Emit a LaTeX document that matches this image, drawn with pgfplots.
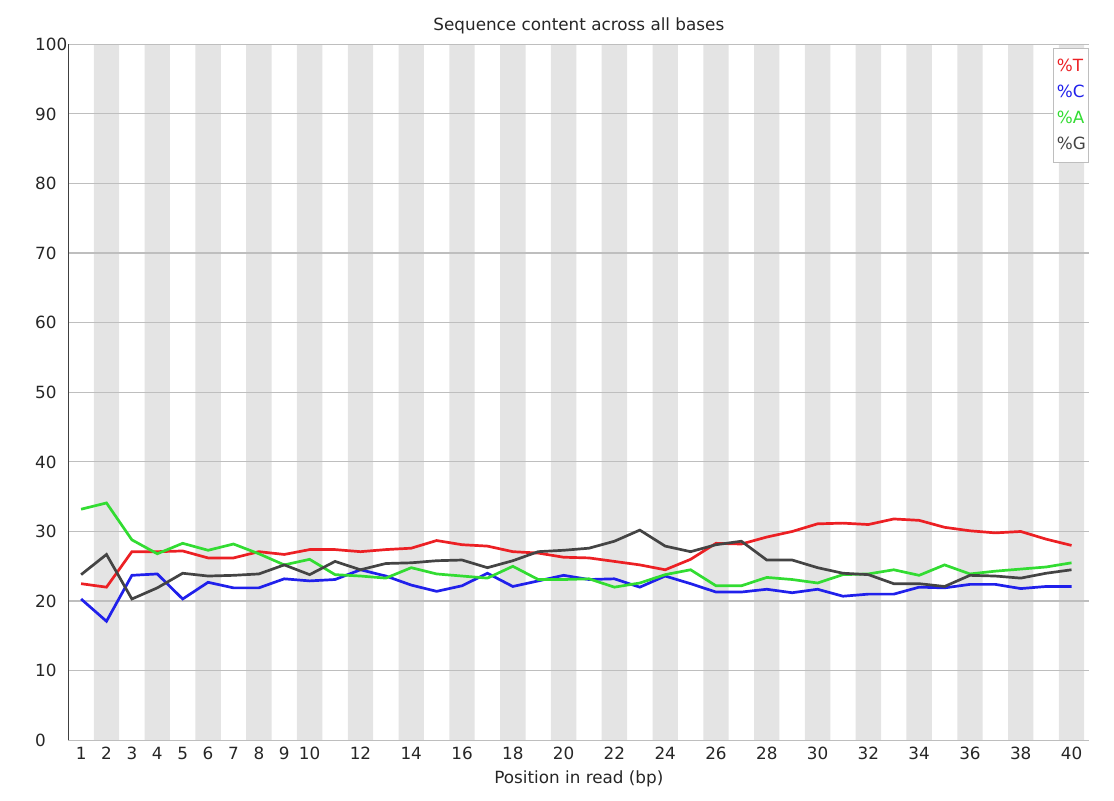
\documentclass[border=0pt]{standalone}
\usepackage{pgfplots}
\pgfplotsset{compat=1.18}
\usepackage{pgfplotstable}
\usepackage{fontspec}
\setmainfont{DejaVu Sans}
\definecolor{cT}{RGB}{236,32,36}
\definecolor{cC}{RGB}{32,32,235}
\definecolor{cA}{RGB}{50,220,50}
\definecolor{cG}{RGB}{68,68,68}
\definecolor{stripe}{RGB}{228,228,228}
\definecolor{gridc}{RGB}{190,190,190}

\pgfplotstableread{
pos T C A G
1 22.5 20.3 33.2 23.8
2 22.0 17.1 34.1 26.7
3 27.1 23.7 28.8 20.3
4 27.1 23.9 26.8 21.9
5 27.2 20.3 28.3 24.0
6 26.2 22.7 27.3 23.6
7 26.2 21.9 28.2 23.7
8 27.1 21.9 26.8 23.9
9 26.7 23.2 25.2 25.2
10 27.4 22.9 26.0 23.8
11 27.4 23.1 23.8 25.7
12 27.1 24.5 23.6 24.5
13 27.4 23.6 23.3 25.4
14 27.6 22.3 24.8 25.5
15 28.7 21.4 23.9 25.8
16 28.1 22.2 23.6 25.9
17 27.9 24.0 23.3 24.8
18 27.1 22.1 25.0 25.8
19 26.9 22.9 23.1 27.1
20 26.3 23.7 23.1 27.3
21 26.2 23.1 23.2 27.6
22 25.7 23.2 22.0 28.6
23 25.2 22.0 22.6 30.2
24 24.5 23.6 23.8 27.9
25 26.0 22.5 24.5 27.1
26 28.3 21.3 22.2 28.1
27 28.2 21.3 22.2 28.6
28 29.2 21.7 23.4 25.9
29 30.0 21.2 23.1 25.9
30 31.1 21.7 22.6 24.8
31 31.2 20.7 23.8 24.0
32 31.0 21.0 23.9 23.8
33 31.8 21.0 24.5 22.5
34 31.6 22.0 23.7 22.5
35 30.6 21.9 25.2 22.1
36 30.1 22.4 23.9 23.7
37 29.8 22.4 24.3 23.6
38 30.0 21.8 24.6 23.3
39 28.9 22.1 24.9 24.0
40 28.0 22.1 25.5 24.5
}\seq

\pgfplotstableread{
pos h
2 100
4 100
6 100
8 100
10 100
12 100
14 100
16 100
18 100
20 100
22 100
24 100
26 100
28 100
30 100
32 100
34 100
36 100
38 100
40 100
}\stripes

\begin{document}
\begin{tikzpicture}
\fontsize{8.4}{10}\selectfont
\begin{axis}[
  set layers,
  scale only axis,
  width=510.45pt, height=348pt,
  xmin=0.5, xmax=40.7,
  ymin=0, ymax=100,
  axis lines=left,
  axis line style={-},
  x axis line style={draw=gridc, line width=0.6pt},
  y axis line style={draw=black!75, line width=0.7pt},
  xtick={1,2,3,4,5,6,7,8,9,10,12,14,16,18,20,22,24,26,28,30,32,34,36,38,40},
  ytick={0,10,...,100},
  major tick length=0pt,
  ymajorgrids,
  grid style={draw=gridc, line width=0.6pt},
  /pgf/number format/assume math mode=true,
  ticklabel style={font=\fontsize{8.4}{10}\selectfont, text=black!85},
  yticklabel style={anchor=west, inner sep=0pt, xshift=-16.8pt},
  xticklabel style={anchor=base, inner sep=0pt, yshift=-9.5pt},
  title={Sequence content across all bases},
  title style={at={(0.5,1)}, anchor=base, inner sep=0pt, yshift=0.8pt, font=\fontsize{8.4}{10}\selectfont, text=black!85},
  xlabel={Position in read (bp)},
  xlabel style={at={(0.5,0)}, anchor=base, inner sep=0pt, yshift=-21.5pt, font=\fontsize{8.4}{10}\selectfont, text=black!85},
  legend image code/.code={},
  legend cell align=left,
  legend style={at={(1,1)}, anchor=north east, yshift=-2pt, draw=gridc, line width=0.5pt, fill=white,
    font=\fontsize{8.4}{10}\selectfont, inner xsep=1.5pt, inner ysep=5pt, row sep=5.4pt,
    nodes={inner sep=0pt, text height=6.2pt, text depth=1.5pt}},
]
\addplot[ybar, bar width=1, fill=stripe, draw=none, forget plot, on layer=axis background] table[x=pos, y=h] {\stripes};
\addplot[cT, line width=1.35pt] table[x=pos, y=T] {\seq};
\addlegendentry{\textcolor{cT}{\%T}}
\addplot[cC, line width=1.35pt] table[x=pos, y=C] {\seq};
\addlegendentry{\textcolor{cC}{\%C}}
\addplot[cA, line width=1.35pt] table[x=pos, y=A] {\seq};
\addlegendentry{\textcolor{cA}{\%A}}
\addplot[cG, line width=1.35pt] table[x=pos, y=G] {\seq};
\addlegendentry{\textcolor{cG}{\%G}}
\end{axis}
\path ([shift={(-34.2pt,-30.35pt)}]current axis.south west) rectangle ++(557pt,400.5pt);
\end{tikzpicture}
\end{document}
